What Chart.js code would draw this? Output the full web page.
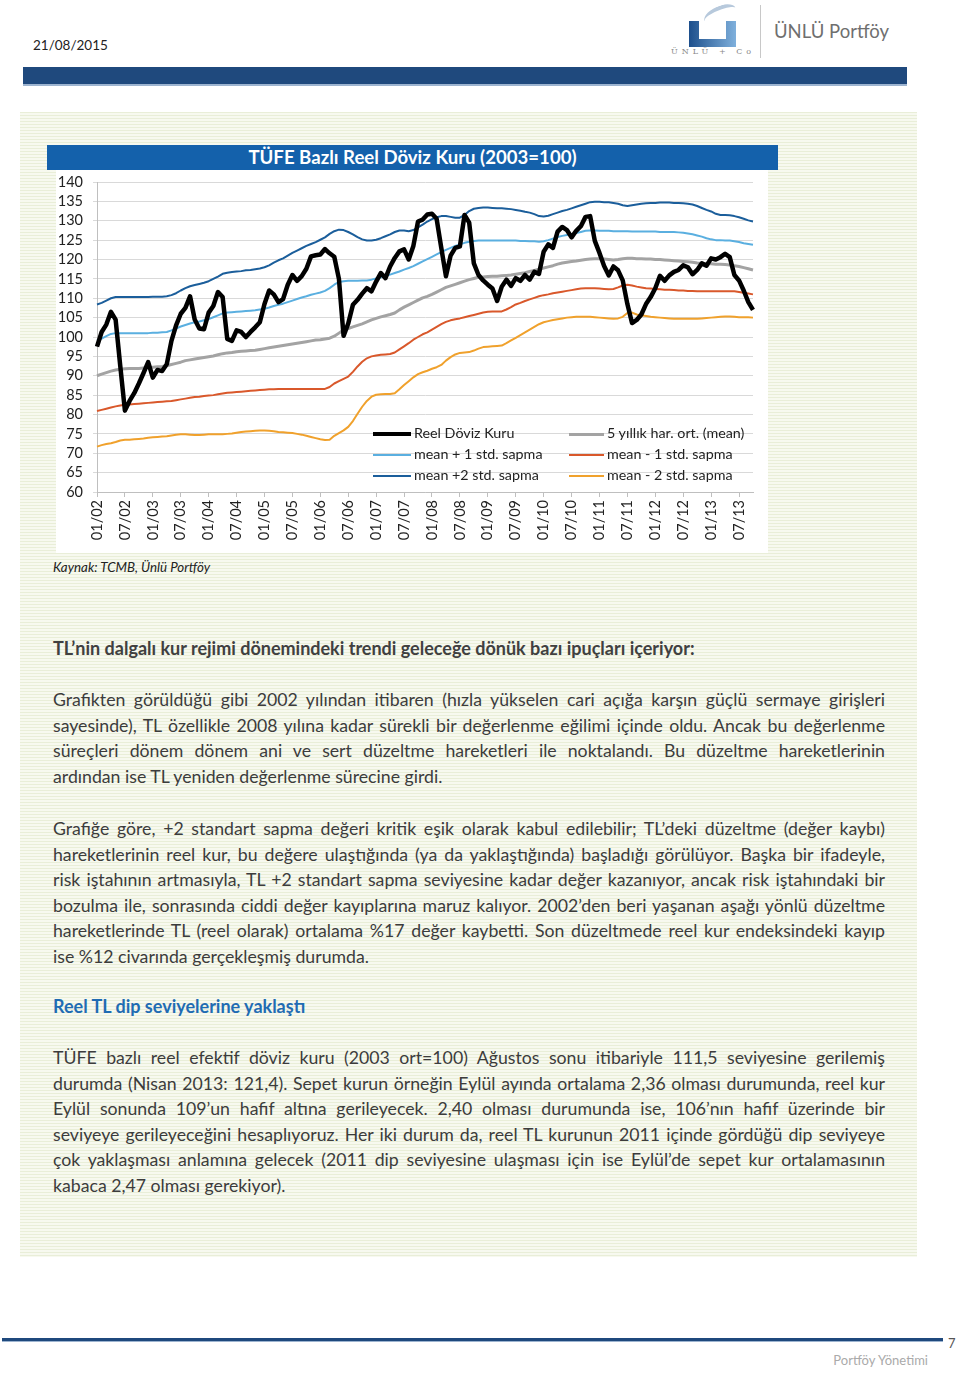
<!DOCTYPE html>
<html>
<head>
<meta charset="utf-8">
<script src="https://cdn.jsdelivr.net/npm/chart.js@4"></script>
<style>
  body { margin: 0; width: 960px; height: 1373px; background: #fff; font-family: Lato, "Open Sans", sans-serif; color: #3c3c3c; position: relative; overflow: hidden; }
  .abs { position: absolute; }
  .panel { left: 20px; top: 112px; width: 897px; height: 1145px; background: repeating-linear-gradient(to bottom, #e9eed8 0, #e9eed8 1px, #f7f9ef 1px, #f7f9ef 3px); }
  .topbar { left: 23px; top: 67px; width: 884px; height: 17px; background: #1f497d; border-bottom: 2px solid #9db4d0; }
  .title { left: 47px; top: 145px; width: 731px; height: 25px; background: #1461ab; color: #fff; font-weight: bold; font-size: 18.6px; text-align: center; line-height: 25px; }
  .chartbox { left: 56px; top: 170px; width: 712px; height: 383px; background: #fff; }
  .legend { font-size: 14.3px; color: #222; line-height: 21px; }
  .legend div { position: absolute; white-space: nowrap; }
  .legend span { display: inline-block; vertical-align: middle; margin-right: 3px; }
  .txt { left: 53px; width: 832px; font-size: 17.7px; line-height: 25.6px; }
  .txt div { white-space: nowrap; }
  .j { text-align: justify; text-align-last: justify; }
  .h { font-weight: bold; font-size: 18px; color: #404040; }
</style>
</head>
<body>
<div class="abs" style="left:33px;top:37px;font-size:13.5px;color:#222">21/08/2015</div>

<!-- logo -->
<div class="abs" style="left:703px;top:6px;width:34px;height:14px;border-top:4px solid #b7c9dc;border-radius:60% 40% 0 0;transform:rotate(-18deg)"></div>
<div class="abs" style="left:689px;top:21px;width:47px;height:26px;background:linear-gradient(to right,#1d4f8c,#7fb0dc)"></div>
<div class="abs" style="left:699px;top:21px;width:27px;height:18px;background:#fff"></div>
<div class="abs" style="left:671px;top:47px;font-size:8px;color:#888;letter-spacing:4px;font-family:'DejaVu Serif',serif">ÜNLÜ + Co</div>
<div class="abs" style="left:760px;top:5px;width:1px;height:53px;background:#c8c8c8"></div>
<div class="abs" style="left:774px;top:20px;font-size:18.5px;color:#6f6f6f">ÜNLÜ Portföy</div>
<div class="abs topbar"></div>

<div class="abs panel"></div>
<div class="abs title">TÜFE Bazlı Reel Döviz Kuru (2003=100)</div>
<div class="abs chartbox"><canvas id="c" width="712" height="383"></canvas></div>

<div class="abs legend" style="left:0;top:0">
  <div style="left:373px;top:422px"><span style="width:38px;height:4px;background:#000"></span>Reel Döviz Kuru</div>
  <div style="left:373px;top:443px"><span style="width:38px;height:2px;background:#5aafe0"></span>mean + 1 std. sapma</div>
  <div style="left:373px;top:464px"><span style="width:38px;height:2px;background:#1b5e9b"></span>mean +2 std. sapma</div>
  <div style="left:569px;top:422px"><span style="width:35px;height:3px;background:#a3a3a3"></span>5 yıllık har. ort. (mean)</div>
  <div style="left:569px;top:443px"><span style="width:35px;height:2px;background:#d9582b"></span>mean - 1 std. sapma</div>
  <div style="left:569px;top:464px"><span style="width:35px;height:2px;background:#f0a12c"></span>mean - 2 std. sapma</div>
</div>

<div class="abs" style="left:53px;top:559px;font-size:13.3px;font-style:italic;color:#222">Kaynak: TCMB, Ünlü Portföy</div>

<div class="abs txt h" style="top:636px">TL’nin dalgalı kur rejimi dönemindeki trendi geleceğe dönük bazı ipuçları içeriyor:</div>

<div class="abs txt" style="top:687px">
  <div class="j">Grafikten görüldüğü gibi 2002 yılından itibaren (hızla yükselen cari açığa karşın güçlü sermaye girişleri</div>
  <div class="j">sayesinde), TL özellikle 2008 yılına kadar sürekli bir değerlenme eğilimi içinde oldu. Ancak bu değerlenme</div>
  <div class="j">süreçleri dönem dönem ani ve sert düzeltme hareketleri ile noktalandı. Bu düzeltme hareketlerinin</div>
  <div>ardından ise TL yeniden değerlenme sürecine girdi.</div>
</div>

<div class="abs txt" style="top:816px">
  <div class="j">Grafiğe göre, +2 standart sapma değeri kritik eşik olarak kabul edilebilir; TL’deki düzeltme (değer kaybı)</div>
  <div class="j">hareketlerinin reel kur, bu değere ulaştığında (ya da yaklaştığında) başladığı görülüyor. Başka bir ifadeyle,</div>
  <div class="j">risk iştahının artmasıyla, TL +2 standart sapma seviyesine kadar değer kazanıyor, ancak risk iştahındaki bir</div>
  <div class="j">bozulma ile, sonrasında ciddi değer kayıplarına maruz kalıyor.  2002’den beri yaşanan aşağı yönlü düzeltme</div>
  <div class="j">hareketlerinde TL (reel olarak) ortalama %17 değer kaybetti. Son düzeltmede reel kur endeksindeki kayıp</div>
  <div>ise %12 civarında gerçekleşmiş durumda.</div>
</div>

<div class="abs txt h" style="top:994px;color:#1f6cb3">Reel TL dip seviyelerine yaklaştı</div>

<div class="abs txt" style="top:1045px">
  <div class="j">TÜFE bazlı reel efektif döviz kuru (2003 ort=100) Ağustos sonu itibariyle 111,5 seviyesine gerilemiş</div>
  <div class="j">durumda (Nisan 2013: 121,4). Sepet kurun örneğin Eylül ayında ortalama 2,36 olması durumunda, reel kur</div>
  <div class="j">Eylül sonunda 109’un hafif altına gerileyecek. 2,40 olması durumunda ise, 106’nın hafif üzerinde bir</div>
  <div class="j">seviyeye gerileyeceğini hesaplıyoruz. Her iki durum da, reel TL kurunun 2011 içinde gördüğü dip seviyeye</div>
  <div class="j">çok yaklaşması anlamına gelecek (2011 dip seviyesine ulaşması için ise Eylül’de sepet kur ortalamasının</div>
  <div>kabaca 2,47 olması gerekiyor).</div>
</div>

<!-- footer -->
<div class="abs" style="left:2px;top:1338px;width:941px;height:3px;background:#1f497d;border-bottom:1px solid #9db4d0"></div>
<div class="abs" style="left:948px;top:1335px;font-size:13px;color:#555">7</div>
<div class="abs" style="left:800px;top:1352px;width:128px;text-align:right;font-size:13px;color:#aaa">Portföy Yönetimi</div>

<script>
// monthly, 01/2002 - 10/2013
const startYear = 2002;
const monthLabels = [];
for (let i = 0; i < 142; i++) {
    const m = i % 12 + 1, y = startYear + Math.floor(i / 12);
    monthLabels.push(String(m).padStart(2, '0') + '/' + String(y % 100).padStart(2, '0'));
}
const yTicks = [60, 140, 5]; // min, max, step

const reelKur = [97.5,101.3,103.2,106.5,104.5,92.5,81,83.5,85.5,88,
    90.7,93.5,89.5,91.5,91.2,93,99,103,106,107.5,
    110.5,104.5,102.2,102,106.3,108,111.6,110.3,99.5,99,
    101.7,101.3,100,101.3,102.5,103.8,108.5,112,111,109,
    109.8,113.5,116,114.5,115.7,117.6,120.8,121.1,121.3,122.7,
    121.6,120.7,115,100.3,103.5,108.3,109.6,111.2,112.6,111.8,
    114.3,116.5,115.2,118.2,120.4,122.1,122.6,120,123.5,129.8,
    130.3,131.6,131.8,130.5,123,115.7,121,123,123.4,131.5,
    129.5,119,116,114.6,113.5,112.5,109.3,113,114.8,113.2,
    115.2,114.5,116,114.8,116.8,116.3,122,123.9,123,127.2,
    128.4,127.6,125.7,127.4,128.6,131,131.2,124.8,121.7,118.3,
    115.9,118.2,117.2,114.6,108.5,103.6,104.4,105.8,108.5,110.3,
    112.6,115.8,114.5,115.9,116.8,117.3,118.5,118,116.2,117.3,
    119,118.4,120.3,120,120.6,121.5,120.6,116,114.6,112,
    109,107];

const meanVals = [90,90.4,90.8,91.2,91.5,91.7,91.8,91.9,91.9,91.9,
    92,92.1,92.2,92.3,92.4,92.6,92.9,93.2,93.5,93.9,
    94.1,94.3,94.5,94.7,94.9,95.1,95.4,95.7,95.9,96,
    96.2,96.3,96.4,96.5,96.6,96.8,97,97.2,97.4,97.6,
    97.8,98,98.2,98.4,98.6,98.8,99,99.2,99.3,99.5,
    99.7,100.2,101,101.8,102.2,102.6,103,103.4,103.9,104.4,
    104.8,105.2,105.5,105.8,106.2,107,107.7,108.3,108.9,109.5,
    110.1,110.5,111,111.6,112.2,112.8,113.2,113.6,114,114.4,
    114.8,115.1,115.4,115.5,115.6,115.7,115.7,115.8,115.9,116,
    116.2,116.4,116.6,116.9,117.2,117.5,117.8,118.1,118.4,118.8,
    119.1,119.3,119.5,119.6,119.8,120,120.1,120.2,120.2,120.1,
    120,119.9,120,120.2,120.3,120.3,120.2,120.2,120.1,120.1,
    120,120,119.9,119.8,119.7,119.6,119.5,119.4,119.3,119.1,
    119,118.9,118.9,118.8,118.8,118.7,118.6,118.4,118.2,117.9,
    117.6,117.3];

const plus1 = [99.1,99.6,100.2,100.8,101,101,101,101,101,101,
    101,101,101.1,101.1,101.2,101.3,101.7,102.2,102.7,103.1,
    103.5,103.8,104,104.3,104.6,105.1,105.6,106.1,106.3,106.4,
    106.5,106.6,106.7,106.8,106.9,107.1,107.3,107.6,108,108.3,
    108.6,109,109.4,109.8,110.2,110.5,110.9,111.2,111.5,111.9,
    112.6,113.5,114.2,114.4,114.5,114.5,114.5,114.6,114.6,114.8,
    115.1,115.4,115.7,116.1,116.5,116.9,117.4,117.8,118.3,118.9,
    119.5,120.1,120.7,121.3,121.9,122.5,123,123.5,123.9,124.3,
    124.6,124.8,124.9,124.9,124.9,124.9,124.9,124.9,124.9,124.9,
    124.9,124.8,124.8,124.7,124.7,124.6,124.7,125,125.4,125.8,
    126.1,126.3,126.5,126.8,127.1,127.4,127.5,127.5,127.4,127.4,
    127.4,127.3,127.3,127.3,127.3,127.2,127.2,127.2,127.2,127.2,
    127.2,127.1,127.1,127.1,127.1,127,126.9,126.7,126.5,126.2,
    125.9,125.5,125.2,125,125,124.9,124.9,124.7,124.5,124.2,
    124,123.8];

const plus2 = [108.4,108.8,109.4,110,110.3,110.3,110.3,110.3,110.3,110.3,
    110.3,110.3,110.4,110.4,110.4,110.5,110.8,111.3,112,112.6,
    113.1,113.4,113.7,114,114.4,115,115.6,116.3,116.6,116.8,
    116.9,117,117.2,117.3,117.5,117.7,118,118.5,119.2,119.8,
    120.3,121,121.7,122.3,122.9,123.5,124,124.5,125.1,125.7,
    126.6,127.3,127.7,127.6,127.1,126.5,125.8,125.2,124.9,124.9,
    125.1,125.5,126,126.5,127.1,127.5,127.5,127.3,127.6,128.3,
    129,129.8,130.4,130.9,131.2,131.2,131,130.8,130.8,131.5,
    132.5,133.1,133.3,133.4,133.4,133.3,133.2,133.2,133.1,133,
    132.8,132.6,132.3,132.1,131.7,131.2,131.1,131.3,131.7,132.1,
    132.5,132.8,133.2,133.6,134,134.4,134.8,134.9,134.9,134.8,
    134.8,134.6,134.4,134,133.8,134,134.2,134.4,134.5,134.6,
    134.6,134.7,134.7,134.7,134.6,134.6,134.5,134.4,134.2,133.8,
    133.3,132.8,132.4,131.8,131.5,131.5,131.4,131.2,130.9,130.5,
    130.1,129.8];

const minus1 = [80.9,81.2,81.5,81.8,82.1,82.3,82.5,82.6,82.7,82.8,
    82.9,83,83.1,83.2,83.3,83.4,83.5,83.7,83.9,84.1,
    84.3,84.5,84.6,84.8,84.9,85,85.2,85.4,85.6,85.7,
    85.8,85.9,86,86.1,86.2,86.3,86.4,86.5,86.5,86.6,
    86.6,86.6,86.6,86.6,86.6,86.6,86.6,86.6,86.6,86.6,
    87.1,88,88.6,89.2,89.8,91,92.4,93.6,94.5,95,
    95.2,95.4,95.5,95.6,96,96.8,97.6,98.4,99.3,100,
    100.7,101.2,101.9,102.6,103.3,103.9,104.3,104.6,104.8,105.1,
    105.4,105.7,106,106.3,106.5,106.6,106.6,106.6,107.1,107.7,
    108.4,108.8,109.3,109.7,110.1,110.5,110.8,111,111.3,111.5,
    111.7,111.9,112.1,112.3,112.5,112.6,112.6,112.6,112.5,112.4,
    112.3,112.4,112.8,113.3,113.5,113.3,113,112.8,112.6,112.5,
    112.4,112.3,112.2,112.2,112.1,112,112,111.9,111.9,111.8,
    111.8,111.8,111.8,111.8,111.8,111.8,111.8,111.8,111.6,111.4,
    111.2,111];

const minus2 = [71.7,72.1,72.4,72.6,72.9,73.3,73.5,73.5,73.6,73.7,
    73.8,74,74.1,74.2,74.3,74.4,74.6,74.8,74.9,74.9,
    74.8,74.7,74.7,74.8,74.9,74.9,74.9,74.9,75,75.1,
    75.3,75.5,75.6,75.7,75.8,75.9,75.9,75.8,75.7,75.5,
    75.4,75.3,75.2,75,74.8,74.5,74.2,73.9,73.6,73.4,
    73.5,74.5,75.2,75.9,76.8,78.3,80.2,82,83.5,84.6,
    85.1,85.2,85.3,85.3,85.5,86.5,87.6,88.6,89.6,90.4,
    90.9,91.3,91.8,92.2,92.8,93.9,94.8,95.5,95.9,96,
    96.1,96.5,97,97.4,97.5,97.6,97.7,97.8,98.4,99.1,
    99.8,100.5,101.2,101.9,102.6,103.3,103.8,104.1,104.4,104.6,
    104.8,105,105.1,105.2,105.2,105.2,105.2,105.1,105,104.9,
    104.8,104.7,104.8,105.2,106.2,106.3,105.8,105.6,105.4,105.2,
    105.1,105,104.9,104.8,104.7,104.7,104.7,104.7,104.7,104.7,
    104.8,104.9,105,105.1,105.2,105.3,105.3,105.2,105.1,105.1,
    105.1,105];

const seriesNames = ['Reel Döviz Kuru', '5 yıllık har. ort. (mean)', 'mean + 1 std. sapma', 'mean - 1 std. sapma', 'mean +2 std. sapma', 'mean - 2 std. sapma'];

const line = (label, data, color, width) => ({
    label, data, borderColor: color, backgroundColor: color, borderWidth: width,
    pointRadius: 0, tension: 0, fill: false, borderJoinStyle: 'round'
});

const axisClr = '#bfbfbf', gridClr = '#d9d9d9', textClr = '#222';
const fnt = { family: 'Lato, sans-serif', size: 14.5 };

new Chart(document.getElementById('c'), {
    type: 'line',
    data: {
        labels: monthLabels,
        datasets: [
            line(seriesNames[0], reelKur, '#000000', 4.5),
            line(seriesNames[1], meanVals, '#a3a3a3', 3),
            line(seriesNames[2], plus1, '#5aafe0', 2),
            line(seriesNames[3], minus1, '#d9582b', 2),
            line(seriesNames[4], plus2, '#1b5e9b', 2),
            line(seriesNames[5], minus2, '#f0a12c', 2)
        ]
    },
    options: {
        responsive: false,
        animation: false,
        layout: { autoPadding: false, padding: { top: 12, right: 15, left: 0, bottom: 0 } },
        plugins: { legend: { display: false }, tooltip: { enabled: false } },
        scales: {
            x: {
                ticks: {
                    autoSkip: false, minRotation: 90, maxRotation: 90, color: textClr, font: fnt, padding: 3,
                    callback: (v, i) => i % 6 === 0 ? monthLabels[i] : null
                },
                grid: { drawOnChartArea: false, tickLength: 5, color: axisClr },
                border: { color: axisClr },
                afterFit: s => { s.height = 61; s.paddingTop = 0; s.paddingBottom = 0; }
            },
            y: {
                min: yTicks[0], max: yTicks[1],
                ticks: { stepSize: yTicks[2], autoSkip: false, color: textClr, font: fnt, padding: 10 },
                grid: { color: gridClr, tickLength: 4 },
                border: { color: axisClr },
                afterFit: s => { s.width = 41; s.paddingTop = 0; s.paddingBottom = 0; }
            }
        }
    }
});
</script>
</body>
</html>
